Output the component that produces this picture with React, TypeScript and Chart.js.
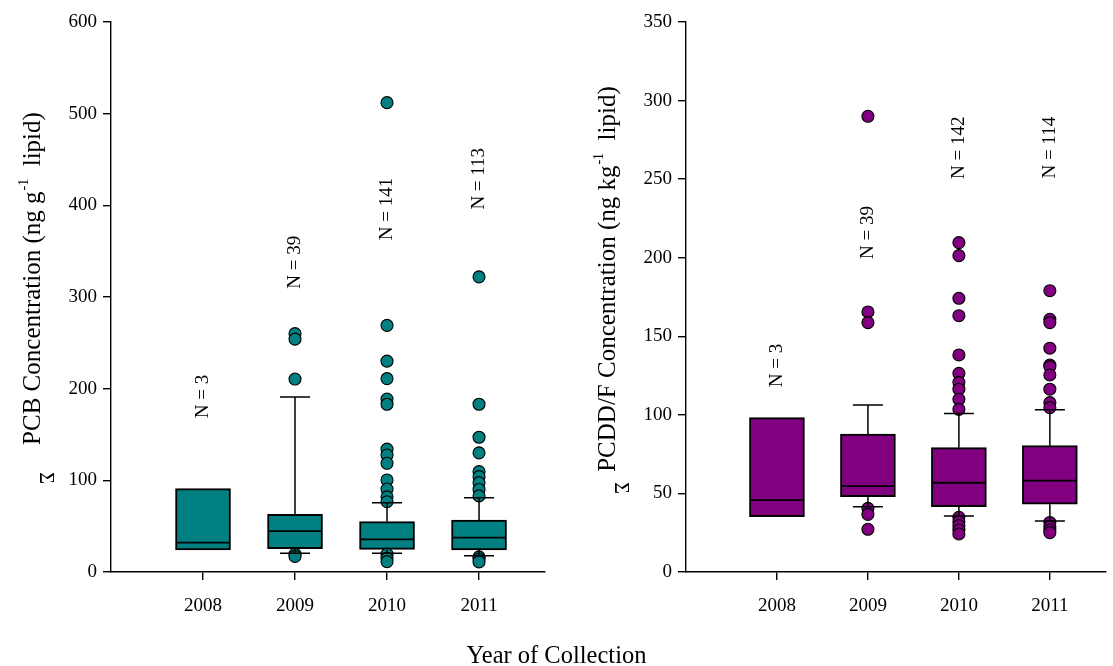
import React, { useEffect, useRef } from "react";
import { Chart, registerables } from "chart.js";

Chart.register(...registerables);

// ---------- shared ----------
const years = [2008, 2009, 2010, 2011];
const xTitle = "Year of Collection";

// ---------- left panel: PCB ----------
const pcbYTicks = [0, 100, 200, 300, 400, 500, 600];
const pcbQ1 = [24, 25.5, 24.7, 24];
const pcbMedian = [32, 44.7, 35.6, 37.5];
const pcbQ3 = [91, 63, 55, 56.7];
const pcbWhiskerLow = [null, 20.4, 20.4, 17.8];
const pcbWhiskerHigh = [null, 191, 75.6, 81];
const pcbOutliers2008: number[] = [];
const pcbOutliers2009 = [260, 254, 210.5, 19.5, 17];
const pcbOutliers2010 = [512, 269, 230, 211, 188.7, 183, 134, 127.6, 118.6, 100.4, 90.5, 82, 76.7, 19.5, 15, 11.3];
const pcbOutliers2011 = [322, 183, 147, 130, 109.5, 104, 97.5, 90, 83, 16.5, 14, 11];
const pcbNLabels = ["N = 3", "N = 39", "N = 141", "N = 113"];
const pcbNLabelY = [191.5, 338, 396, 429];

// ---------- right panel: PCDD/F ----------
const dfYTicks = [0, 50, 100, 150, 200, 250, 300, 350];
const dfQ1 = [35.2, 47.9, 41.6, 43.1];
const dfMedian = [45.8, 54.7, 56.8, 58.1];
const dfQ3 = [98.2, 87.8, 79.1, 80.4];
const dfWhiskerLow = [null, 41.6, 35.6, 32.5];
const dfWhiskerHigh = [null, 106.3, 100.8, 103.3];
const dfOutliers2008: number[] = [];
const dfOutliers2009 = [290, 165.5, 158.7, 40.5, 36.7, 27.2];
const dfOutliers2010 = [209.6, 201.3, 174.2, 163.1, 138.1, 126.4, 120.7, 116.3, 109.9, 103.5, 34.8, 32, 29.5, 26.7, 24.2];
const dfOutliers2011 = [179, 160.8, 158.7, 142.4, 131.7, 130.7, 125.4, 116.3, 107.8, 104.6, 31.5, 28.9, 26.7, 25];
const dfNLabels = ["N = 3", "N = 39", "N = 142", "N = 114"];
const dfNLabelY = [131.4, 216, 270, 270];

const SERIF = "'Liberation Serif', 'Times New Roman', Times, serif";

type PanelCfg = {
  left: number;
  width: number;
  height: number;
  yWidth: number;
  padRight: number;
  xMax: number;
  yMax: number;
  yTicks: number[];
  color: string;
  q1: number[];
  median: number[];
  q3: number[];
  wLow: (number | null)[];
  wHigh: (number | null)[];
  outliers: number[][];
  nLabels: string[];
  nLabelY: number[];
  titleMain: string;
  titleSup: string;
  titleRest: string;
  titleX: number;
  titleCY: number;
  sigmaX: number;
  sigmaY: number;
};

function makePlugin(cfg: PanelCfg) {
  return {
    id: "boxExtras",
    afterDatasetsDraw(chart: any) {
      const ctx: CanvasRenderingContext2D = chart.ctx;
      const xs = chart.scales.x;
      const ys = chart.scales.y;
      const meta = chart.getDatasetMeta(0);
      ctx.save();
      ctx.strokeStyle = "#000";
      ctx.lineCap = "butt";
      years.forEach((yr, i) => {
        const bar = meta.data[i];
        const bx = bar.x;
        const half = bar.width / 2;
        // median
        ctx.lineWidth = 1.8;
        const my = ys.getPixelForValue(cfg.median[i]);
        ctx.beginPath();
        ctx.moveTo(bx - half + 1, my);
        ctx.lineTo(bx + half - 1, my);
        ctx.stroke();
        // whiskers
        ctx.lineWidth = 1.5;
        const capHalf = 15;
        const hi = cfg.wHigh[i];
        if (hi != null) {
          const y0 = ys.getPixelForValue(cfg.q3[i]);
          const y1 = ys.getPixelForValue(hi);
          ctx.beginPath();
          ctx.moveTo(bx, y0);
          ctx.lineTo(bx, y1);
          ctx.moveTo(bx - capHalf, y1);
          ctx.lineTo(bx + capHalf, y1);
          ctx.stroke();
        }
        const lo = cfg.wLow[i];
        if (lo != null) {
          const y0 = ys.getPixelForValue(cfg.q1[i]);
          const y1 = ys.getPixelForValue(lo);
          ctx.beginPath();
          ctx.moveTo(bx, y0);
          ctx.lineTo(bx, y1);
          ctx.moveTo(bx - capHalf, y1);
          ctx.lineTo(bx + capHalf, y1);
          ctx.stroke();
        }
        // N labels
        const lx = xs.getPixelForValue(yr);
        const ly = ys.getPixelForValue(cfg.nLabelY[i]);
        ctx.save();
        ctx.translate(lx, ly);
        ctx.rotate(-Math.PI / 2);
        ctx.fillStyle = "#000";
        ctx.font = `19px ${SERIF}`;
        ctx.textAlign = "center";
        ctx.textBaseline = "middle";
        ctx.fillText(cfg.nLabels[i], 0, 0);
        ctx.restore();
      });
      ctx.restore();
    },
    afterDraw(chart: any) {
      const ctx: CanvasRenderingContext2D = chart.ctx;
      ctx.save();
      ctx.fillStyle = "#000";
      const mainFont = `25px ${SERIF}`;
      const supFont = `14px ${SERIF}`;
      ctx.font = mainFont;
      const w1 = ctx.measureText(cfg.titleMain).width;
      const w3 = ctx.measureText(cfg.titleRest).width;
      ctx.font = supFont;
      const w2 = ctx.measureText(cfg.titleSup).width + 1;
      const total = w1 + w2 + w3;
      ctx.translate(cfg.titleX, cfg.titleCY + total / 2);
      ctx.rotate(-Math.PI / 2);
      ctx.textBaseline = "alphabetic";
      ctx.textAlign = "left";
      ctx.font = mainFont;
      ctx.fillText(cfg.titleMain, 0, 0);
      ctx.font = supFont;
      ctx.fillText(cfg.titleSup, w1 + 1, -12);
      ctx.font = mainFont;
      ctx.fillText(cfg.titleRest, w1 + w2, 0);
      ctx.restore();
      // sigma
      ctx.save();
      ctx.translate(cfg.sigmaX, cfg.sigmaY);
      ctx.rotate(Math.PI / 2);
      ctx.fillStyle = "#000";
      ctx.font = `20px ${SERIF}`;
      ctx.textAlign = "center";
      ctx.textBaseline = "middle";
      ctx.fillText("\u03A3", 0, 0);
      ctx.restore();
    },
  };
}

function BoxPanel({ cfg }: { cfg: PanelCfg }) {
  const ref = useRef<HTMLCanvasElement>(null);
  useEffect(() => {
    if (!ref.current) return;
    const points: { x: number; y: number }[] = [];
    years.forEach((yr, i) => cfg.outliers[i].forEach((v) => points.push({ x: yr, y: v })));
    const tickFont = { family: SERIF, size: 19 };
    const chart = new Chart(ref.current, {
      type: "bar",
      data: {
        datasets: [
          {
            type: "bar",
            data: years.map((yr, i) => ({ x: yr, y: [cfg.q1[i], cfg.q3[i]] })) as any,
            backgroundColor: cfg.color,
            borderColor: "#000",
            borderWidth: 2,
            borderSkipped: false,
            barThickness: 55,
            order: 2,
          } as any,
          {
            type: "scatter",
            data: points,
            backgroundColor: cfg.color,
            borderColor: "#000",
            borderWidth: 1.1,
            pointRadius: 6,
            order: 1,
          } as any,
        ],
      },
      options: {
        responsive: false,
        animation: false,
        layout: { padding: { top: 22, right: cfg.padRight, left: 0, bottom: 0 } },
        plugins: { legend: { display: false }, tooltip: { enabled: false } },
        scales: {
          x: {
            type: "linear",
            min: 2007,
            max: cfg.xMax,
            offset: false,
            afterBuildTicks: (s: any) => {
              s.ticks = years.map((v) => ({ value: v }));
            },
            afterFit: (s: any) => {
              s.height = 94;
            },
            grid: { offset: false, drawOnChartArea: false, drawTicks: true, tickLength: 8, color: "#000", lineWidth: 1.4 },
            border: { display: true, color: "#000", width: 1.4 },
            ticks: {
              callback: (v: any) => String(v),
              font: tickFont,
              color: "#000",
              padding: 15,
              maxRotation: 0,
              autoSkip: false,
            },
          },
          y: {
            type: "linear",
            min: 0,
            max: cfg.yMax,
            afterBuildTicks: (s: any) => {
              s.ticks = cfg.yTicks.map((v) => ({ value: v }));
            },
            afterFit: (s: any) => {
              s.width = cfg.yWidth;
            },
            grid: { offset: false, drawOnChartArea: false, drawTicks: true, tickLength: 8, color: "#000", lineWidth: 1.4 },
            border: { display: true, color: "#000", width: 1.4 },
            ticks: {
              callback: (v: any) => String(v),
              font: tickFont,
              color: "#000",
              padding: 6,
              autoSkip: false,
            },
          },
        },
      } as any,
      plugins: [makePlugin(cfg) as any],
    });
    return () => chart.destroy();
  }, []);
  return (
    <canvas
      ref={ref}
      width={cfg.width}
      height={cfg.height}
      style={{ position: "absolute", left: cfg.left, top: 0, width: cfg.width, height: cfg.height, display: "block" }}
    />
  );
}

const leftCfg: PanelCfg = {
  left: 0,
  width: 556,
  height: 666,
  yWidth: 111,
  padRight: 11,
  xMax: 2011.717,
  yMax: 600,
  yTicks: pcbYTicks,
  color: "#008080",
  q1: pcbQ1,
  median: pcbMedian,
  q3: pcbQ3,
  wLow: pcbWhiskerLow,
  wHigh: pcbWhiskerHigh,
  outliers: [pcbOutliers2008, pcbOutliers2009, pcbOutliers2010, pcbOutliers2011],
  nLabels: pcbNLabels,
  nLabelY: pcbNLabelY,
  titleMain: "PCB Concentration (ng g",
  titleSup: "-1",
  titleRest: "  lipid)",
  titleX: 40,
  titleCY: 278.5,
  sigmaX: 45,
  sigmaY: 478,
};

const rightCfg: PanelCfg = {
  left: 556,
  width: 557,
  height: 666,
  yWidth: 130,
  padRight: 0,
  xMax: 2011.616,
  yMax: 350,
  yTicks: dfYTicks,
  color: "#800080",
  q1: dfQ1,
  median: dfMedian,
  q3: dfQ3,
  wLow: dfWhiskerLow,
  wHigh: dfWhiskerHigh,
  outliers: [dfOutliers2008, dfOutliers2009, dfOutliers2010, dfOutliers2011],
  nLabels: dfNLabels,
  nLabelY: dfNLabelY,
  titleMain: "PCDD/F Concentration (ng kg",
  titleSup: "-1",
  titleRest: "  lipid)",
  titleX: 59,
  titleCY: 279,
  sigmaX: 64,
  sigmaY: 488,
};

export default function App() {
  return (
    <div
      style={{
        position: "absolute",
        left: 0,
        top: 0,
        width: 1113,
        height: 666,
        overflow: "hidden",
        background: "#fff",
      }}
    >
      <BoxPanel cfg={leftCfg} />
      <BoxPanel cfg={rightCfg} />
      <div
        style={{
          position: "absolute",
          left: 0,
          top: 643,
          width: 1113,
          height: 24,
          lineHeight: "24px",
          textAlign: "center",
          fontFamily: SERIF,
          fontSize: 24.5,
          color: "#000",
          whiteSpace: "nowrap",
        }}
      >
        {xTitle}
      </div>
    </div>
  );
}
